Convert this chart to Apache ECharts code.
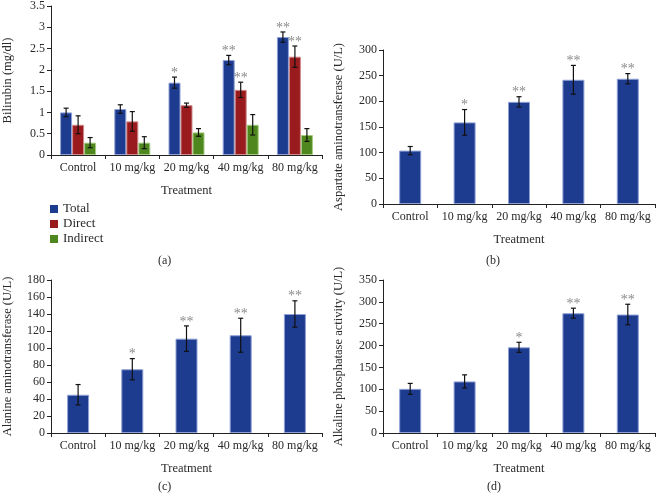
<!DOCTYPE html>
<html>
<head>
<meta charset="utf-8">
<script src="https://cdn.jsdelivr.net/npm/echarts@6/dist/echarts.min.js"></script>
<style>html,body{margin:0;padding:0;background:#fff}#c{width:656px;height:495px}</style>
</head>
<body>
<div id="c"></div>
<script>
const categories = ['Control', '10 mg/kg', '20 mg/kg', '40 mg/kg', '80 mg/kg'];

const bilTotal = [1.0, 1.08, 1.7, 2.23, 2.77];
const bilTotalErr = [0.1, 0.1, 0.13, 0.11, 0.12];
const bilTotalSig = ['', '', '*', '**', '**'];
const bilDirect = [0.71, 0.79, 1.17, 1.53, 2.31];
const bilDirectErr = [0.21, 0.23, 0.05, 0.18, 0.25];
const bilDirectSig = ['', '', '', '**', '**'];
const bilIndirect = [0.29, 0.29, 0.53, 0.71, 0.47];
const bilIndirectErr = [0.12, 0.14, 0.09, 0.24, 0.15];
const bilIndirectSig = ['', '', '', '', ''];

const ast = [104, 159, 199, 242, 244];
const astErr = [8, 25, 10, 28, 10];
const astSig = ['', '*', '**', '**', '**'];

const alt = [45, 75, 111, 115, 140];
const altErr = [12, 12.5, 15, 20, 15.5];
const altSig = ['', '*', '**', '**', '**'];

const alp = [101, 118, 196, 274, 271];
const alpErr = [12.5, 15, 11.5, 11.5, 23.5];
const alpSig = ['', '', '*', '**', '**'];

const FONT = 'Liberation Serif';
const TXT = '#2a2a2a';
const BLUE = '#1d3b8f', RED = '#9a1b1d', GREEN = '#4f871f';

const chart = echarts.init(document.getElementById('c'));

const grids = [
  {left: 49, top: 5, width: 273, height: 150},
  {left: 383, top: 50, width: 272, height: 154},
  {left: 49, top: 280, width: 273, height: 153},
  {left: 383, top: 280, width: 272, height: 153}
];
const yNames = ['Bilirubin (mg/dl)', 'Aspartate aminotransferase (U/L)', 'Alanine aminotransferase (U/L)', 'Alkaline phosphatase activity (U/L)'];
const yMax = [3.5, 300, 180, 350];
const yInt = [0.5, 50, 20, 50];
const yGap = [37, 38, 37, 38];

function xAxis(i) {
  return {
    type: 'category', gridIndex: i, data: categories,
    name: 'Treatment', nameLocation: 'middle', nameGap: 29,
    nameTextStyle: {fontFamily: FONT, fontSize: 12.5, color: TXT},
    axisLine: {lineStyle: {color: '#222', width: 1}},
    axisTick: {show: true, alignWithLabel: false, length: 4, lineStyle: {color: '#222'}},
    axisLabel: {fontFamily: FONT, fontSize: 12, color: TXT, margin: 7, interval: 0}
  };
}
function yAxis(i) {
  return {
    type: 'value', gridIndex: i, min: 0, max: yMax[i], interval: yInt[i],
    name: yNames[i], nameLocation: 'middle', nameGap: yGap[i], nameRotate: 90,
    nameTextStyle: {fontFamily: FONT, fontSize: 12.5, color: TXT},
    axisLine: {show: true, lineStyle: {color: '#222', width: 1}},
    axisTick: {show: true, length: 4, lineStyle: {color: '#222'}},
    axisLabel: {fontFamily: FONT, fontSize: 12, color: TXT, margin: 6},
    splitLine: {show: false}
  };
}

function errSeries(gi, vals, errs, sigs, offset) {
  return {
    type: 'custom', xAxisIndex: gi, yAxisIndex: gi, z: 10,
    data: vals.map((v, k) => [k, v, errs[k]]),
    encode: {x: 0, y: 1},
    renderItem: function (params, api) {
      const k = api.value(0), v = api.value(1), e = api.value(2);
      const sig = sigs[k];
      const c = api.coord([k, v]);
      const x = c[0] + offset;
      const top = api.coord([k, v + e])[1];
      const bot = api.coord([k, v - e])[1];
      const cap = 2.5;
      const st = {stroke: '#111', lineWidth: 1.2};
      const children = [
        {type: 'line', shape: {x1: x, y1: top, x2: x, y2: bot}, style: st},
        {type: 'line', shape: {x1: x - cap, y1: top, x2: x + cap, y2: top}, style: st},
        {type: 'line', shape: {x1: x - cap, y1: bot, x2: x + cap, y2: bot}, style: st}
      ];
      if (sig) {
        children.push({type: 'text', style: {text: sig, x: x, y: top + 3, textAlign: 'center', textVerticalAlign: 'bottom', fontFamily: FONT, fontSize: 14, fill: '#8a8a8a'}});
      }
      return {type: 'group', children: children};
    }
  };
}

function barStyle(color, border) {
  return {color: color, borderColor: border, borderWidth: 1};
}

const series = [
  {name: 'Total', type: 'bar', xAxisIndex: 0, yAxisIndex: 0, data: bilTotal, barWidth: 12, barGap: '0%', itemStyle: barStyle(BLUE, '#8fa0d6')},
  {name: 'Direct', type: 'bar', xAxisIndex: 0, yAxisIndex: 0, data: bilDirect, barWidth: 12, barGap: '0%', itemStyle: barStyle(RED, '#d08a8a')},
  {name: 'Indirect', type: 'bar', xAxisIndex: 0, yAxisIndex: 0, data: bilIndirect, barWidth: 12, barGap: '0%', itemStyle: barStyle(GREEN, '#a6cc80')},
  errSeries(0, bilTotal, bilTotalErr, bilTotalSig, -12),
  errSeries(0, bilDirect, bilDirectErr, bilDirectSig, 0),
  errSeries(0, bilIndirect, bilIndirectErr, bilIndirectSig, 12),
  {type: 'bar', xAxisIndex: 1, yAxisIndex: 1, data: ast, barWidth: 22, itemStyle: barStyle(BLUE, '#8fa0d6')},
  errSeries(1, ast, astErr, astSig, 0),
  {type: 'bar', xAxisIndex: 2, yAxisIndex: 2, data: alt, barWidth: 22, itemStyle: barStyle(BLUE, '#8fa0d6')},
  errSeries(2, alt, altErr, altSig, 0),
  {type: 'bar', xAxisIndex: 3, yAxisIndex: 3, data: alp, barWidth: 22, itemStyle: barStyle(BLUE, '#8fa0d6')},
  errSeries(3, alp, alpErr, alpSig, 0)
];

chart.setOption({
  animation: false,
  grid: grids,
  xAxis: [0, 1, 2, 3].map(xAxis),
  yAxis: [0, 1, 2, 3].map(yAxis),
  legend: {
    data: ['Total', 'Direct', 'Indirect'], orient: 'vertical', left: 45, top: 197,
    itemWidth: 8, itemHeight: 8, itemGap: 1, icon: 'rect',
    itemStyle: {borderWidth: 0},
    textStyle: {fontFamily: FONT, fontSize: 13, color: TXT, lineHeight: 14}
  },
  graphic: [
    {type: 'text', left: 158, top: 255, style: {text: '(a)', fontFamily: FONT, fontSize: 12, fill: TXT}},
    {type: 'text', left: 486, top: 255, style: {text: '(b)', fontFamily: FONT, fontSize: 12, fill: TXT}},
    {type: 'text', left: 158, top: 481, style: {text: '(c)', fontFamily: FONT, fontSize: 12, fill: TXT}},
    {type: 'text', left: 487, top: 481, style: {text: '(d)', fontFamily: FONT, fontSize: 12, fill: TXT}}
  ],
  series: series
});
</script>
</body>
</html>
